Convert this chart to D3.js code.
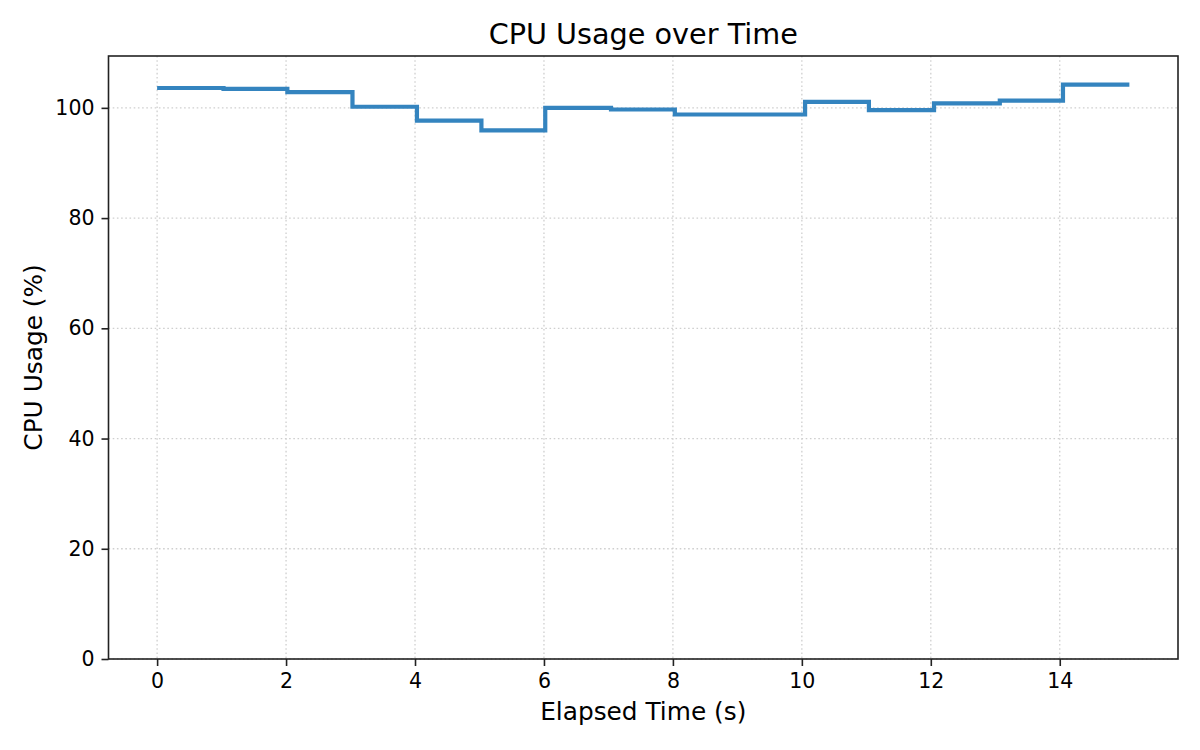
<!DOCTYPE html>
<html>
<head>
<meta charset="utf-8">
<script src="https://cdn.jsdelivr.net/npm/d3@7"></script>
<style>
  body { margin: 0; background: #fff; }
  text { font-family: "DejaVu Sans", sans-serif; fill: #000; }
</style>
</head>
<body>
<svg id="chart" width="1200" height="750"></svg>
<script>
// sampled elapsed time (s) and cpu usage (%)
const times = [0, 1.03, 2.02, 3.03, 4.03, 5.03, 6.02, 7.04, 8.03, 9.04, 10.05, 11.04, 12.05, 13.07, 14.05, 15.08];
const cpuUsage = [103.6, 103.45, 102.85, 100.2, 97.7, 95.9, 100.0, 99.7, 98.8, 98.8, 101.1, 99.6, 100.8, 101.3, 104.2, 104.2];
const xTicks = [0, 2, 4, 6, 8, 10, 12, 14];
const yTicks = [0, 20, 40, 60, 80, 100];

const svg = d3.select("#chart");
const plotLeft = 108.5, plotRight = 1178, plotTop = 56, plotBottom = 659;

const tMin = d3.min(times), tMax = d3.max(times), pad = (tMax - tMin) * 0.05;
const x = d3.scaleLinear().domain([tMin - pad, tMax + pad]).range([plotLeft, plotRight]);
const y = d3.scaleLinear().domain([0, d3.max(cpuUsage) * 1.05]).range([plotBottom, plotTop]);

// grid
const grid = svg.append("g").attr("stroke", "#cfcfcf").attr("stroke-width", 1.3).attr("stroke-dasharray", "1.6,2.6");
grid.selectAll(".gx").data(xTicks).join("line")
  .attr("x1", d => x(d)).attr("x2", d => x(d)).attr("y1", plotTop).attr("y2", plotBottom);
grid.selectAll(".gy").data(yTicks).join("line")
  .attr("y1", d => y(d)).attr("y2", d => y(d)).attr("x1", plotLeft).attr("x2", plotRight);

// step line
const data = times.map((t, i) => [t, cpuUsage[i]]);
svg.append("path").datum(data)
  .attr("fill", "none").attr("stroke", "#3484bf").attr("stroke-width", 4.2)
  .attr("d", d3.line().x(d => x(d[0])).y(d => y(d[1])).curve(d3.curveStepAfter));

// axes
const xAxis = svg.append("g").attr("transform", `translate(0,${plotBottom})`)
  .call(d3.axisBottom(x).tickValues(xTicks).tickSize(7).tickPadding(7));
const yAxis = svg.append("g").attr("transform", `translate(${plotLeft},0)`)
  .call(d3.axisLeft(y).tickValues(yTicks).tickSize(7).tickPadding(7));
[xAxis, yAxis].forEach(a => {
  a.select(".domain").remove();
  a.selectAll(".tick line").attr("stroke", "#222").attr("stroke-width", 1.6);
  a.selectAll(".tick text").style("font-family", "DejaVu Sans").style("font-size", "20.5px").attr("fill", "#111");
});

// frame
svg.append("rect").attr("x", plotLeft).attr("y", plotTop).attr("width", plotRight - plotLeft).attr("height", plotBottom - plotTop)
  .attr("fill", "none").attr("stroke", "#222").attr("stroke-width", 1.6);

// labels
svg.append("text").attr("x", (plotLeft + plotRight) / 2).attr("y", 44).attr("text-anchor", "middle")
  .style("font-size", "28.7px").text("CPU Usage over Time");
svg.append("text").attr("x", (plotLeft + plotRight) / 2).attr("y", 720).attr("text-anchor", "middle")
  .style("font-size", "24.8px").text("Elapsed Time (s)");
svg.append("text").attr("transform", `translate(42,${(plotTop + plotBottom) / 2}) rotate(-90)`).attr("text-anchor", "middle")
  .style("font-size", "24.8px").text("CPU Usage (%)");
</script>
</body>
</html>
